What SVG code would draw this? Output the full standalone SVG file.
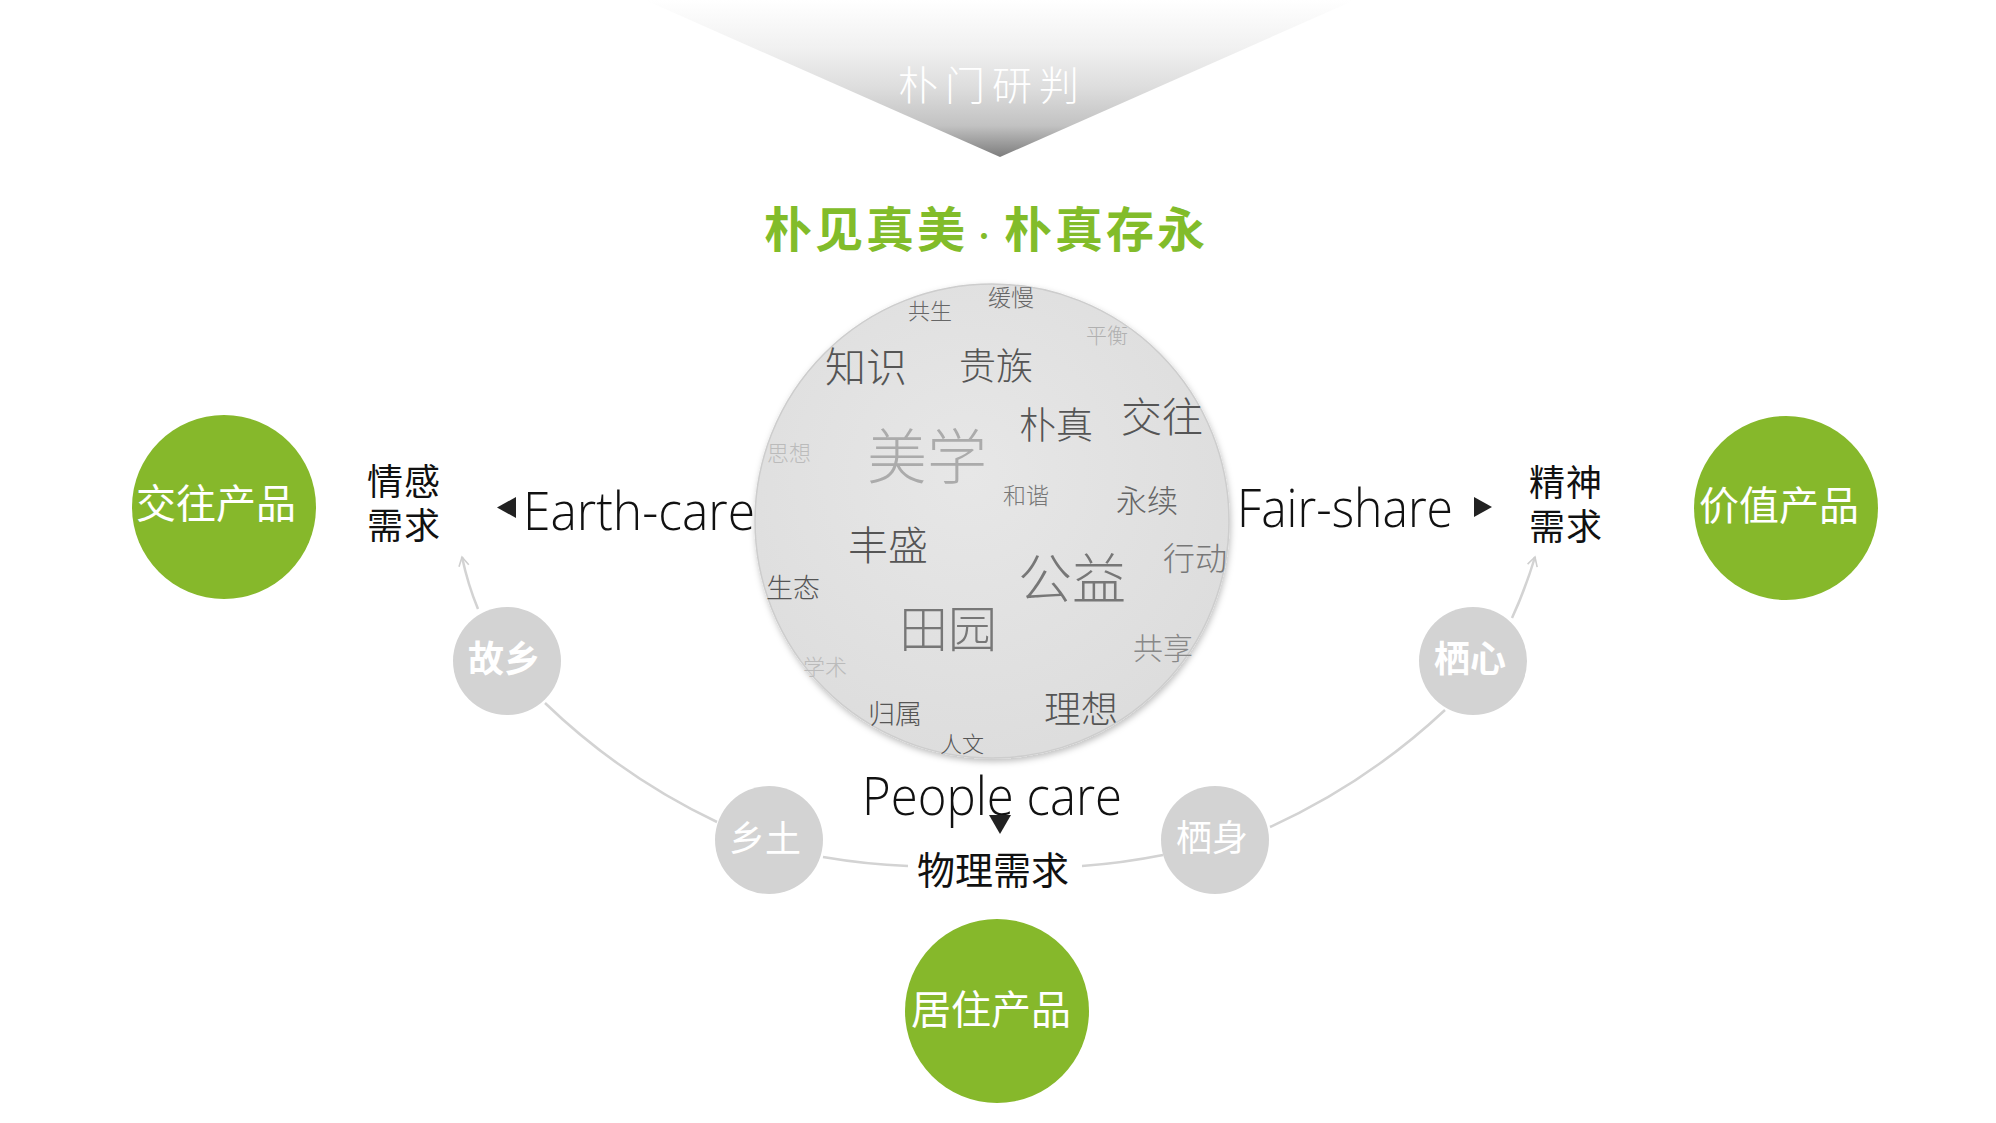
<svg xmlns="http://www.w3.org/2000/svg" width="1996" height="1123" viewBox="0 0 1996 1123">
<defs>
  <linearGradient id="triGrad" x1="0" y1="0" x2="0" y2="157" gradientUnits="userSpaceOnUse">
    <stop offset="0" stop-color="#ffffff"/>
    <stop offset="0.3" stop-color="#f1f1f1"/>
    <stop offset="0.55" stop-color="#dedede"/>
    <stop offset="0.8" stop-color="#c2c2c2"/>
    <stop offset="1" stop-color="#7d7d7d"/>
  </linearGradient>
  <radialGradient id="ballGrad" cx="0.45" cy="0.4" r="0.6">
    <stop offset="0" stop-color="#e7e7e7"/>
    <stop offset="1" stop-color="#dddddd"/>
  </radialGradient>
  <filter id="shadow" x="-10%" y="-10%" width="120%" height="125%">
    <feDropShadow dx="1" dy="3" stdDeviation="3" flood-color="#000" flood-opacity="0.25"/>
  </filter>
  <marker id="openArrow" viewBox="0 0 12 12" refX="10" refY="6" markerWidth="12" markerHeight="12" markerUnits="userSpaceOnUse" orient="auto">
    <path d="M1,1 L10,6 L1,11" fill="none" stroke="#cfcfcf" stroke-width="1.6"/>
  </marker>
  <style>
    .cjk { font-family: "Noto Sans CJK SC", "Noto Sans CJK JP", sans-serif; }
    .latin { font-family: "Open Sans", "Segoe UI", "Liberation Sans", sans-serif; font-weight: 300; fill: #111; }
    .word { font-family: "Noto Sans CJK SC", sans-serif; text-anchor: middle; font-weight: 300; }
    .label { font-family: "Noto Sans CJK SC", sans-serif; font-size: 38px; fill: #111; text-anchor: middle; }
    .label2 { font-family: "Noto Sans CJK SC", sans-serif; font-size: 36px; fill: #111; text-anchor: middle; letter-spacing: 1px; }
    .green { fill: #86b82b; }
    .gtext { font-family: "Noto Sans CJK SC", sans-serif; font-size: 40px; fill: #ffffff; text-anchor: middle; }
    .gray { fill: #d3d3d3; }
    .graytext { font-family: "Noto Sans CJK SC", sans-serif; font-size: 36px; fill: #ffffff; text-anchor: middle; }
    .conn { fill: none; stroke: #d3d3d3; stroke-width: 2.5; }
    .tri { fill: #222; }
  </style>
</defs>
<rect width="1996" height="1123" fill="#ffffff"/>

<g id="header">
  <polygon points="645,0 1355,0 1000,157" fill="url(#triGrad)"/>
  <text x="898" y="100" class="cjk" font-size="40" font-weight="300" fill="#ffffff" letter-spacing="7">朴门研判</text>
</g>

<g id="title">
  <text y="247" class="cjk" font-size="48" font-weight="700" fill="#82bc2a"><tspan x="764" letter-spacing="3">朴见真美</tspan><tspan x="970" font-size="28" font-weight="400">·</tspan><tspan x="1004" letter-spacing="3">朴真存永</tspan></text>
</g>

<g id="connectors">
  <path class="conn" d="M478,609 Q468,585 462,557" marker-end="url(#openArrow)"/>
  <path class="conn" d="M545,703 A650,650 0 0 0 717,822"/>
  <path class="conn" d="M823,857 A650,650 0 0 0 908,866"/>
  <path class="conn" d="M1082,866 A650,650 0 0 0 1163,855"/>
  <path class="conn" d="M1270,827 A650,650 0 0 0 1445,710"/>
  <path class="conn" d="M1512,618 Q1525,590 1535,557" marker-end="url(#openArrow)"/>
</g>

<g id="word-cloud">
  <circle cx="992" cy="521" r="237" fill="url(#ballGrad)" stroke="#cdcdcd" stroke-width="1.5" filter="url(#shadow)"/>
  <text class="word" x="1011" y="306" font-size="23" fill="#666" font-weight="400">缓慢</text>
  <text class="word" x="930" y="319" font-size="22" fill="#666" font-weight="400">共生</text>
  <text class="word" x="1107" y="343" font-size="21" fill="#b0b0b0">平衡</text>
  <text class="word" x="866" y="382" font-size="41" fill="#555">知识</text>
  <text class="word" x="996" y="380" font-size="37" fill="#555">贵族</text>
  <text class="word" x="1056" y="439" font-size="37" fill="#555">朴真</text>
  <text class="word" x="1162" y="432" font-size="41" fill="#555">交往</text>
  <text class="word" x="927" y="479" font-size="60" fill="#ababab">美学</text>
  <text class="word" x="789" y="461" font-size="22" fill="#bbbbbb">思想</text>
  <text class="word" x="1026" y="504" font-size="23" fill="#777" font-weight="400">和谐</text>
  <text class="word" x="1147" y="512" font-size="31" fill="#666">永续</text>
  <text class="word" x="888" y="560" font-size="40" fill="#555">丰盛</text>
  <text class="word" x="1195" y="570" font-size="32" fill="#777">行动</text>
  <text class="word" x="1072" y="599" font-size="54" fill="#777">公益</text>
  <text class="word" x="793" y="598" font-size="27" fill="#555">生态</text>
  <text class="word" x="948" y="647" font-size="49" fill="#777">田园</text>
  <text class="word" x="1163" y="659" font-size="30" fill="#888">共享</text>
  <text class="word" x="825" y="675" font-size="22" fill="#bbbbbb">学术</text>
  <text class="word" x="1081" y="723" font-size="37" fill="#555">理想</text>
  <text class="word" x="895" y="724" font-size="27" fill="#555">归属</text>
  <text class="word" x="962" y="752" font-size="22" fill="#555">人文</text>
</g>

<g id="earth-care">
  <polygon class="tri" points="516,497 516,518 497,507.5"/>
  <text class="latin" x="523" y="530" font-size="54" textLength="232" lengthAdjust="spacingAndGlyphs">Earth-care</text>
</g>

<g id="fair-share">
  <text class="latin" x="1237" y="527" font-size="54" textLength="216" lengthAdjust="spacingAndGlyphs">Fair-share</text>
  <polygon class="tri" points="1474,497 1474,517 1492,507"/>
</g>

<g id="people-care">
  <text class="latin" x="862" y="815" font-size="54" textLength="260" lengthAdjust="spacingAndGlyphs">People care</text>
  <polygon class="tri" points="989,815 1011,815 1000,834"/>
</g>

<g id="emotional-need">
  <text class="label2"><tspan x="404" y="495">情感</tspan><tspan x="404" y="539">需求</tspan></text>
</g>

<g id="spiritual-need">
  <text class="label2"><tspan x="1566" y="496">精神</tspan><tspan x="1566" y="540">需求</tspan></text>
</g>

<g id="physical-need">
  <text class="label" x="993" y="884">物理需求</text>
</g>

<g id="product-social">
  <circle class="green" cx="224" cy="507" r="92"/>
  <text class="gtext" x="216" y="518">交往产品</text>
</g>

<g id="product-value">
  <circle class="green" cx="1786" cy="508" r="92"/>
  <text class="gtext" x="1779" y="520">价值产品</text>
</g>

<g id="product-living">
  <circle class="green" cx="997" cy="1011" r="92"/>
  <text class="gtext" x="991" y="1024">居住产品</text>
</g>

<g id="node-guxiang">
  <circle class="gray" cx="507" cy="661" r="54"/>
  <text class="graytext" x="504" y="672" font-weight="700">故乡</text>
</g>

<g id="node-xiangtu">
  <circle class="gray" cx="769" cy="840" r="54"/>
  <text class="graytext" x="765" y="852">乡土</text>
</g>

<g id="node-qishen">
  <circle class="gray" cx="1215" cy="840" r="54"/>
  <text class="graytext" x="1212" y="851">栖身</text>
</g>

<g id="node-qixin">
  <circle class="gray" cx="1473" cy="661" r="54"/>
  <text class="graytext" x="1470" y="672" font-weight="700">栖心</text>
</g>
</svg>
